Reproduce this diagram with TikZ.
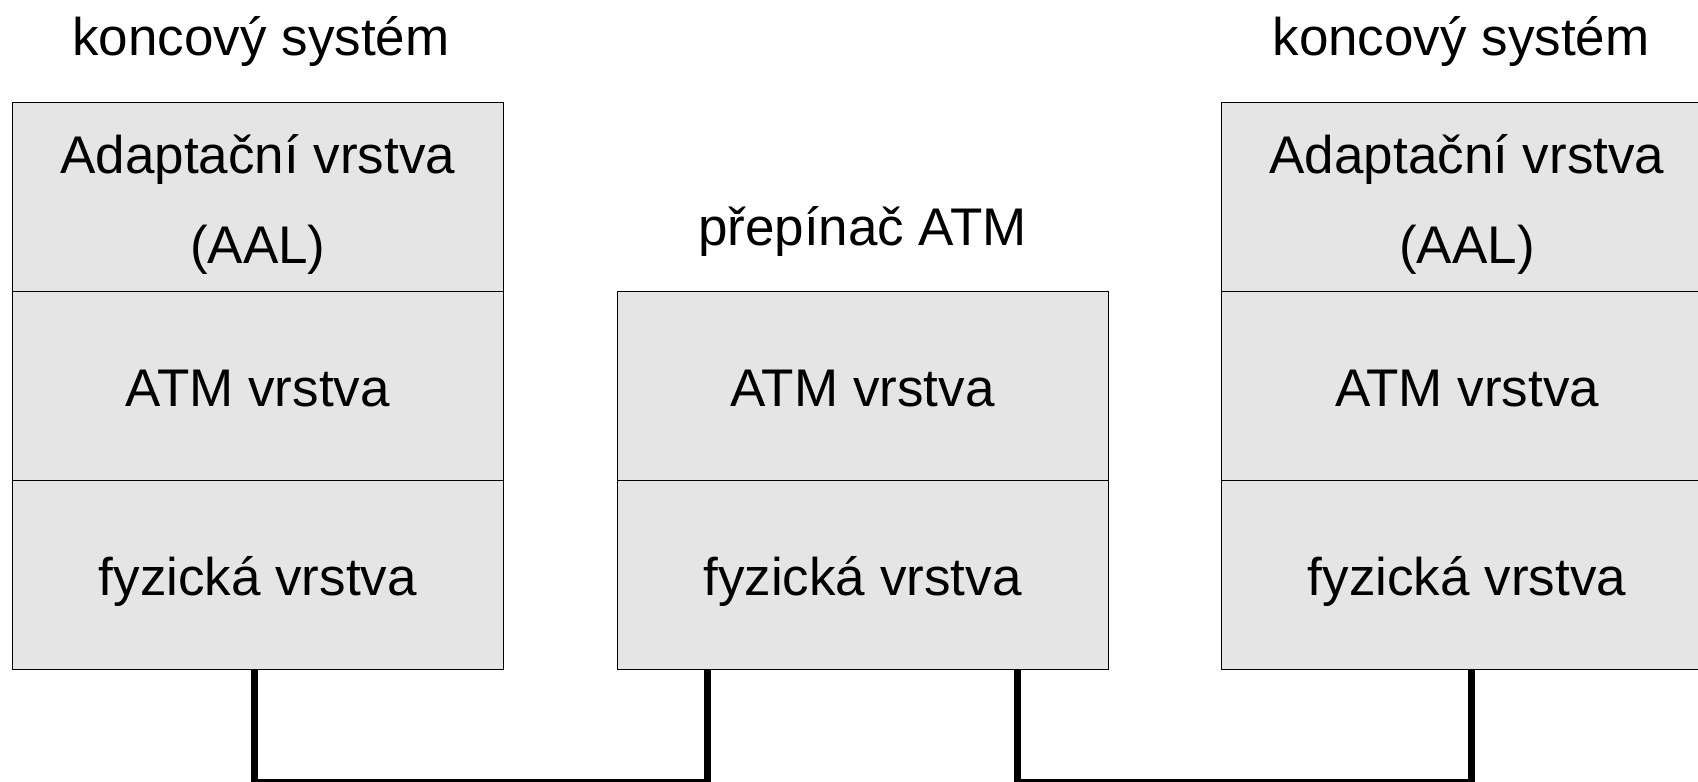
\documentclass[tikz,border=0pt]{standalone}
\usepackage{fontspec}
\setmainfont{Liberation Sans}
\definecolor{layerfill}{RGB}{229,229,229}
\begin{document}
\begin{tikzpicture}[x=0.5pt,y=-0.5pt,
  every node/.style={font=\fontsize{26.5pt}{45.85pt}\selectfont, inner sep=0pt},
  layer/.style={draw=black, line width=0.5pt, fill=layerfill, rectangle,
    minimum width=245.5pt, minimum height=94.4pt, align=center,
    text height=20.5pt, text depth=0pt},
  title/.style={anchor=base}]
\tikzset{link/.style={line width=3.5pt, line join=miter, line cap=butt}}
\useasboundingbox (0,0) rectangle (1698,782);
\clip (0,0) rectangle (1698,782);

% end system (left)
\node[layer] (l1) at (257.8,197) {};
\node[title] (l1a) at (257.8,173.3) {Adaptační vrstva};
\node[title] (l1b) at (257.8,263.3) {(AAL)};
\node[layer] (l2) at (257.8,385.8) {ATM vrstva};
\node[layer] (l3) at (257.8,574.6) {fyzická vrstva};
\node[title] (lt) at (261,55) {koncový systém};

% ATM switch (middle)
\node[layer] (m2) at (862.5,385.8) {ATM vrstva};
\node[layer] (m3) at (862.5,574.6) {fyzická vrstva};
\node[title] (mt) at (862.5,245) {přepínač ATM};

% end system (right)
\node[layer] (r1) at (1467,197) {};
\node[title] (r1a) at (1467,173.3) {Adaptační vrstva};
\node[title] (r1b) at (1467,263.3) {(AAL)};
\node[layer] (r2) at (1467,385.8) {ATM vrstva};
\node[layer] (r3) at (1467,574.6) {fyzická vrstva};
\node[title] (rt) at (1461,55) {koncový systém};

% physical links
\coordinate (floor) at (0,782.5);
\coordinate (la) at ([xshift=-1.9pt]l3.south);
\coordinate (ma) at ([xshift=-77.5pt]m3.south);
\coordinate (mb) at ([xshift=77.5pt]m3.south);
\coordinate (ra) at ([xshift=2.25pt]r3.south);
\draw[link] (la) -- (la |- floor) -- (ma |- floor) -- (ma);
\draw[link] (mb) -- (mb |- floor) -- (ra |- floor) -- (ra);
\end{tikzpicture}
\end{document}
